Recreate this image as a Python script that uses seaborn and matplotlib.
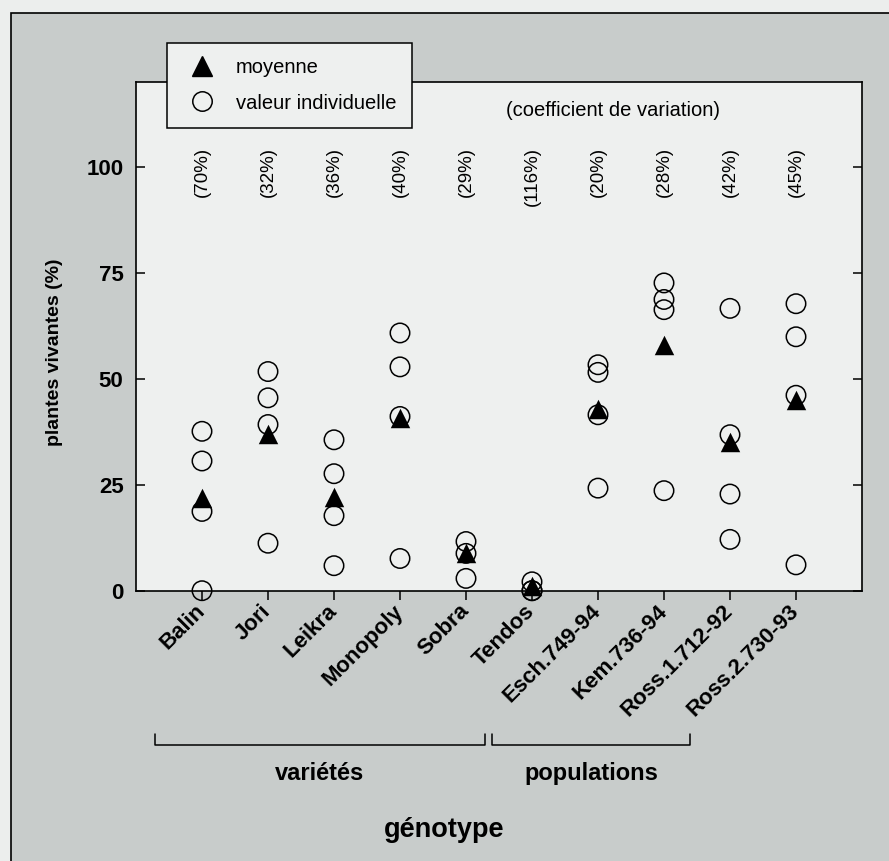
import pandas as pd
import numpy as np
import matplotlib
matplotlib.use("Agg")
import matplotlib.pyplot as plt
from matplotlib.lines import Line2D
from matplotlib.patches import Rectangle
import seaborn as sns

# Values
genotypes = ['Balin', 'Jori', 'Leikra', 'Monopoly', 'Sobra', 'Tendos',
             'Esch.749-94', 'Kem.736-94', 'Ross.1.712-92', 'Ross.2.730-93']
individual = [
    [37.6, 30.6, 18.7, 0.0],
    [51.7, 45.5, 39.2, 11.2],
    [35.6, 27.6, 17.7, 5.9],
    [60.8, 52.8, 41.1, 7.6],
    [11.6, 8.8, 2.9],
    [2.1, 0.0, 0.0],
    [53.3, 51.5, 41.5, 24.2],
    [72.6, 68.7, 66.3, 23.6],
    [66.6, 36.8, 22.8, 12.1],
    [67.7, 59.9, 46.1, 6.1],
]
means = [21.8, 37.0, 22.0, 40.8, 8.9, 1.2, 42.9, 58.0, 35.0, 45.1]
cv_labels = ['(70%)', '(32%)', '(36%)', '(40%)', '(29%)',
             '(116%)', '(20%)', '(28%)', '(42%)', '(45%)']
yticks = [0, 25, 50, 75, 100]

df_ind = pd.DataFrame([(g, v) for g, vals in zip(genotypes, individual) for v in vals],
                      columns=['genotype', 'valeur'])
df_mean = pd.DataFrame({'genotype': genotypes, 'valeur': means})

sns.set_style('white')
plt.rcParams['font.family'] = ['Liberation Sans', 'DejaVu Sans']
plt.rcParams['text.color'] = 'black'
plt.rcParams['xtick.color'] = 'black'
plt.rcParams['ytick.color'] = 'black'
plt.rcParams['axes.labelcolor'] = 'black'

outer_bg = '#eceeed'
frame_bg = '#c8cccb'
plot_bg = '#eef0ef'

fig = plt.figure(figsize=(8.89, 8.61), dpi=100, facecolor=outer_bg)
fig.patches.append(Rectangle((11 / 889, -0.2), 1.3, 1.2 - 13 / 861,
                             transform=fig.transFigure, facecolor=frame_bg,
                             edgecolor='black', linewidth=1.2, zorder=-10))
ax = fig.add_axes([136 / 889, 1 - 590.7 / 861, 726 / 889, 508.7 / 861])
ax.set_facecolor(plot_bg)

sns.stripplot(data=df_ind, x='genotype', y='valeur', order=genotypes, jitter=False,
              marker='o', size=14, color='black', linewidth=1.1, ax=ax, clip_on=False,
              zorder=3)
for coll in ax.collections:
    coll.set_facecolor('none')
    coll.set_edgecolor('black')
n_ind = len(ax.collections)
sns.stripplot(data=df_mean, x='genotype', y='valeur', order=genotypes, jitter=False,
              marker='^', size=14, color='black', linewidth=0, ax=ax, clip_on=False,
              zorder=4)
for coll in ax.collections[n_ind:]:
    coll.set_facecolor('black')

ax.set_xlim(-1, 10)
ax.set_ylim(0, 120)
ax.set_yticks(yticks)
ax.set_yticklabels([str(t) for t in yticks], fontsize=16, fontweight='bold')
ax.set_xticks(range(len(genotypes)))
ax.set_xticklabels(genotypes, rotation=45, ha='right', va='center',
                   rotation_mode='anchor', fontsize=16, fontweight='bold')
ax.tick_params(axis='y', direction='in', length=6.5, width=1.1, left=True, right=True,
               pad=9)
ax.tick_params(axis='x', direction='out', length=6.5, width=1.1, bottom=True, pad=6)
ax.set_xlabel('')
ax.set_ylabel('')
for s in ax.spines.values():
    s.set_visible(True)
    s.set_color('black')
    s.set_linewidth(1.2)

# coefficient of variation labels
for i, lab in enumerate(cv_labels):
    ax.text(i, 104.6, lab, rotation=90, ha='center', va='top', fontsize=13.5)
ax.text(6.23, 113.3, '(coefficient de variation)', ha='center', va='center', fontsize=14.5)

# legend
handles = [Line2D([], [], marker='^', linestyle='none', color='black', markersize=14),
           Line2D([], [], marker='o', linestyle='none', markerfacecolor='none',
                  markeredgecolor='black', markeredgewidth=1.1, markersize=14)]
leg = ax.legend(handles, ['moyenne', 'valeur individuelle'], loc='upper left',
                bbox_to_anchor=(166.7 / 889, 1 - 43.3 / 861), bbox_transform=fig.transFigure,
                borderaxespad=0, fontsize=14.5, frameon=True, fancybox=False,
                borderpad=0.75, handlelength=2.0, handletextpad=0.7, labelspacing=0.8)
leg.get_frame().set_edgecolor('black')
leg.get_frame().set_facecolor(plot_bg)
leg.get_frame().set_alpha(1)
leg.get_frame().set_linewidth(1.1)

# group brackets below the axis
def px(x, y):
    return x / 889, 1 - y / 861

for x0, x1 in [(154.5, 484.8), (492, 690)]:
    xs = [x0, x0, x1, x1]
    ys = [734, 745, 745, 734]
    fig.add_artist(Line2D([x / 889 for x in xs], [1 - y / 861 for y in ys],
                          color='black', linewidth=1.1, transform=fig.transFigure))
fig.text(*px(320, 780), 'variétés', ha='center', va='baseline', fontsize=17, fontweight='bold')
fig.text(*px(591, 780), 'populations', ha='center', va='baseline', fontsize=17, fontweight='bold')
fig.text(*px(443.7, 830), 'génotype', ha='center', va='center', fontsize=19.5, fontweight='bold')
fig.text(*px(55, 352), 'plantes vivantes (%)', rotation=90, ha='center', va='center',
         fontsize=14, fontweight='bold')

plt.savefig('out.png', dpi=100, facecolor=fig.get_facecolor())
